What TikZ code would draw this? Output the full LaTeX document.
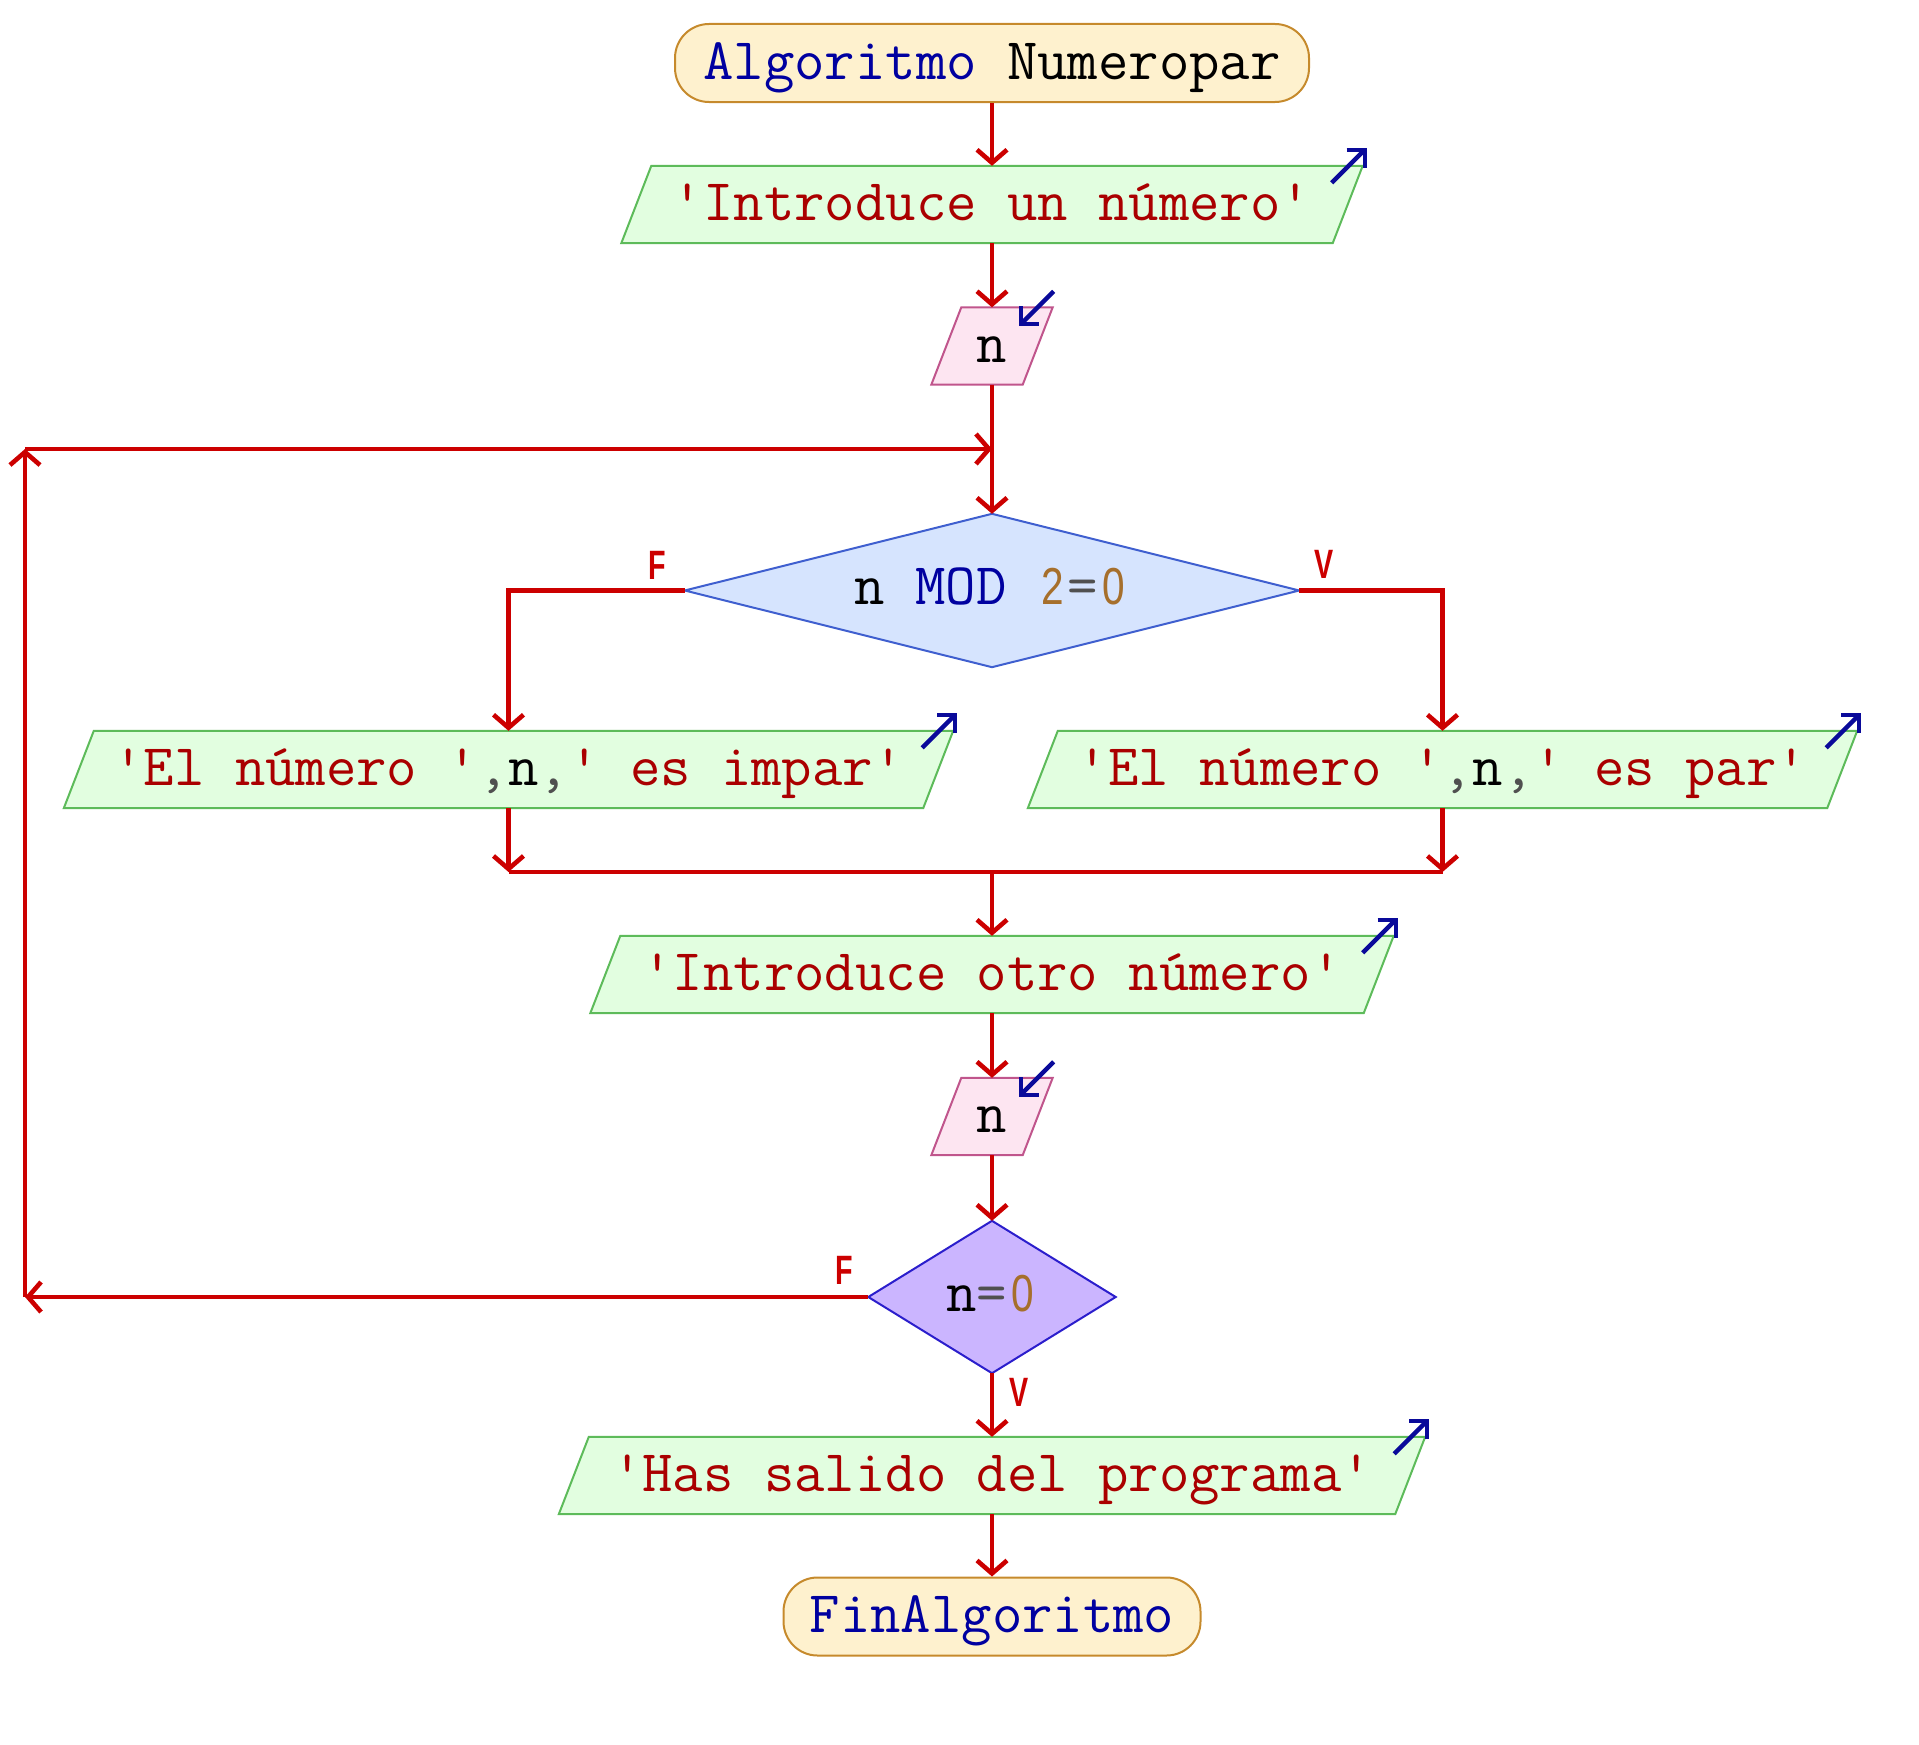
\documentclass[tikz,border=0pt]{standalone}
\usepackage{fontspec}
\newfontfamily\numfont{Liberation Sans}[FakeStretch=0.78]
\newfontfamily\lblfont{Liberation Sans Bold}[FakeStretch=0.7]
\usetikzlibrary{arrows.meta,backgrounds,calc}
\definecolor{redc}{HTML}{CC0000}
\definecolor{strc}{HTML}{AA0000}
\definecolor{kwc}{HTML}{0000A0}
\definecolor{numc}{HTML}{A66F2C}
\definecolor{opc}{HTML}{505050}
\definecolor{bluec}{HTML}{0A0A9A}
\definecolor{termfill}{HTML}{FEF1CE}
\definecolor{termdraw}{HTML}{C68A2C}
\definecolor{outfill}{HTML}{E2FEE0}
\definecolor{outdraw}{HTML}{5DBB5A}
\definecolor{infill}{HTML}{FDE5F1}
\definecolor{indraw}{HTML}{C0558C}
\definecolor{dafill}{HTML}{D6E4FE}
\definecolor{dadraw}{HTML}{3F5FCF}
\definecolor{dbfill}{HTML}{CBB5FF}
\definecolor{dbdraw}{HTML}{2B1ECC}
\newcommand\dg[1]{\makebox[31pt][c]{\color{numc}\numfont\fontsize{52}{52}\selectfont #1}}
\newcommand\pgram[3]{\path[fill=#2,draw=#3,line width=2pt,line join=miter] ([xshift=15pt]#1.north west) -- ([xshift=15pt]#1.north east) -- ([xshift=-15pt]#1.south east) -- ([xshift=-15pt]#1.south west) -- cycle;}
\newcommand\dmd[3]{\path[fill=#2,draw=#3,line width=2pt] (#1.north) -- (#1.east) -- (#1.south) -- (#1.west) -- cycle;}
\newcommand\outarr[1]{%
  \draw[bluearr] ([shift={(-16pt,-17pt)}]#1.north east) -- ([shift={(17pt,16pt)}]#1.north east);
  \draw[bluearr] ([shift={(-1pt,16pt)}]#1.north east) -- ([shift={(17pt,16pt)}]#1.north east) -- ([shift={(17pt,-2pt)}]#1.north east);}
\newcommand\inarr[1]{%
  \draw[bluearr] ([shift={(16pt,16pt)}]#1.north east) -- ([shift={(-17pt,-17pt)}]#1.north east);
  \draw[bluearr] ([shift={(1pt,-17pt)}]#1.north east) -- ([shift={(-17pt,-17pt)}]#1.north east) -- ([shift={(-17pt,1pt)}]#1.north east);}
\begin{document}
\begin{tikzpicture}[x=1pt,y=-1pt,
  txt/.style={rectangle, inner sep=0pt, font=\ttfamily\fontsize{59}{59}\selectfont, text height=32pt, text depth=0pt, minimum height=77pt},
  term/.style={txt, draw=termdraw, fill=termfill, line width=2pt, rounded corners=34pt, minimum height=78pt},
  dtxt/.style={txt, text height=28pt},
  flow/.style={draw=redc, line width=4.6pt, -{Straight Barb[length=13pt,width=30pt]}},
  seg/.style={draw=redc, line width=4.6pt},
  bluearr/.style={draw=bluec, line width=4.3pt, line join=miter},
  lbl/.style={inner sep=0pt, text=redc, font=\lblfont\fontsize{41}{41}\selectfont}]
\useasboundingbox (0,0) rectangle (1919,1745);
\node[term, minimum width=634pt] (start) at (992,63) {{\color{kwc}Algoritmo} Numeropar};
\node[txt, minimum width=711pt] (p1) at (992,204.5) {{\color{strc}'Introduce un número'}};
\node[txt, minimum width=91pt] (n1) at (992,346) {n};
\node[dtxt, minimum width=614pt, minimum height=153pt] (d1) at (992,590.5) {n {\color{kwc}MOD} \dg{2}{\color{opc}=}\dg{0}};
\node[txt, minimum width=859pt] (lo) at (508.5,769.5) {{\color{strc}'El número '}{\color{opc},}n{\color{opc},}{\color{strc}' es impar'}};
\node[txt, minimum width=799pt] (ro) at (1442.5,769.5) {{\color{strc}'El número '}{\color{opc},}n{\color{opc},}{\color{strc}' es par'}};
\node[txt, minimum width=773pt] (p2) at (992,974.5) {{\color{strc}'Introduce otro número'}};
\node[txt, minimum width=91pt] (n2) at (992,1116.5) {n};
\node[dtxt, minimum width=247pt, minimum height=152pt] (d2) at (992,1297) {n{\color{opc}=}\dg{0}};
\node[txt, minimum width=836pt] (p3) at (992,1475.5) {{\color{strc}'Has salido del programa'}};
\node[term, minimum width=417pt] (fin) at (992,1616.5) {{\color{kwc}FinAlgoritmo}};
\begin{scope}[on background layer]
  \pgram{p1}{outfill}{outdraw}
  \pgram{lo}{outfill}{outdraw}
  \pgram{ro}{outfill}{outdraw}
  \pgram{p2}{outfill}{outdraw}
  \pgram{p3}{outfill}{outdraw}
  \pgram{n1}{infill}{indraw}
  \pgram{n2}{infill}{indraw}
  \dmd{d1}{dafill}{dadraw}
  \dmd{d2}{dbfill}{dbdraw}
\end{scope}
\outarr{p1}\outarr{lo}\outarr{ro}\outarr{p2}\outarr{p3}
\inarr{n1}\inarr{n2}
% coordinates
\coordinate (lb) at (25,1297);
\coordinate (lt) at (25,449);
\coordinate (lj) at (992,449);
\coordinate (ml) at (508.5,872);
\coordinate (mr) at (1442.5,872);
\coordinate (mj) at (992,872);
% connectors
\draw[flow] (start.south) -- (p1.north);
\draw[flow] (p1.south) -- (n1.north);
\draw[flow] (n1.south) -- (d1.north);
\draw[flow] (d1.west) -| (lo.north);
\draw[flow] (d1.east) -| (ro.north);
\draw[flow] (lo.south) -- (ml);
\draw[flow] (ro.south) -- (mr);
\draw[seg] (ml) -- (mr);
\draw[flow] (mj) -- (p2.north);
\draw[flow] (p2.south) -- (n2.north);
\draw[flow] (n2.south) -- (d2.north);
\draw[flow] (d2.west) -- (lb);
\draw[flow] (lb) -- (lt);
\draw[flow] (lt) -- (lj);
\draw[flow] (d2.south) -- (p3.north);
\draw[flow] (p3.south) -- (fin.north);
% labels
\node[lbl] (f1) at (657,565) {F};
\node[lbl] (v1) at (1324,564) {V};
\node[lbl] (f2) at (844,1270) {F};
\node[lbl] (v2) at (1019,1392) {V};
\end{tikzpicture}
\end{document}
